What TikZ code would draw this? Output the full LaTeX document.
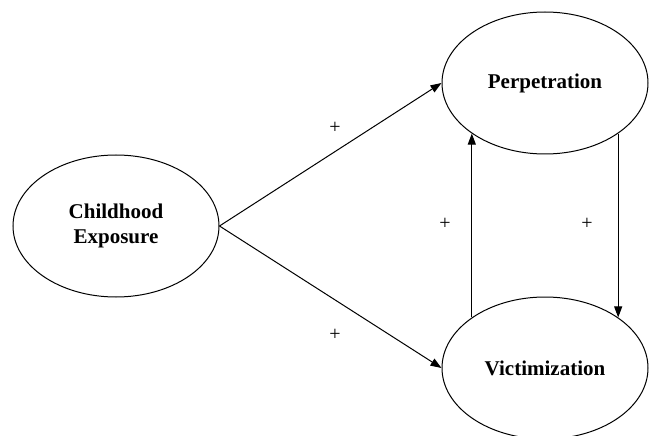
\documentclass[tikz,border=0pt]{standalone}
\usepackage{fontspec}
\setmainfont{Liberation Serif}
\usetikzlibrary{shapes.geometric,arrows.meta}
\begin{document}
\begin{tikzpicture}[x=1pt,y=-1pt,
  oval/.style={draw,ellipse,line width=1pt,minimum width=206pt,minimum height=142pt,inner sep=0pt,
    font=\fontsize{21}{25}\selectfont\bfseries,align=center},
  conn/.style={line width=1pt,-{Triangle[length=11pt,width=8pt]}},
  sign/.style={font=\fontsize{20}{24}\selectfont}]
\useasboundingbox (0,0) rectangle (649,436);
\clip (0,0) rectangle (649,436);
\node[oval] (child) at (116,226) {Childhood\\Exposure};
\node[oval] (perp) at (545,83) {Perpetration};
\node[oval] (victim) at (545,368) {Victimization};
\draw[conn] (child.east) -- (perp.west);
\draw[conn] (child.east) -- (victim.west);
\draw[conn] (victim.north west) -- (perp.south west);
\draw[conn] (perp.south east) -- (victim.north east);
\node[sign] (p1) at (335,128) {+};
\node[sign] (p2) at (335,335) {+};
\node[sign] (p3) at (445,224) {+};
\node[sign] (p4) at (587,224) {+};
\end{tikzpicture}
\end{document}
